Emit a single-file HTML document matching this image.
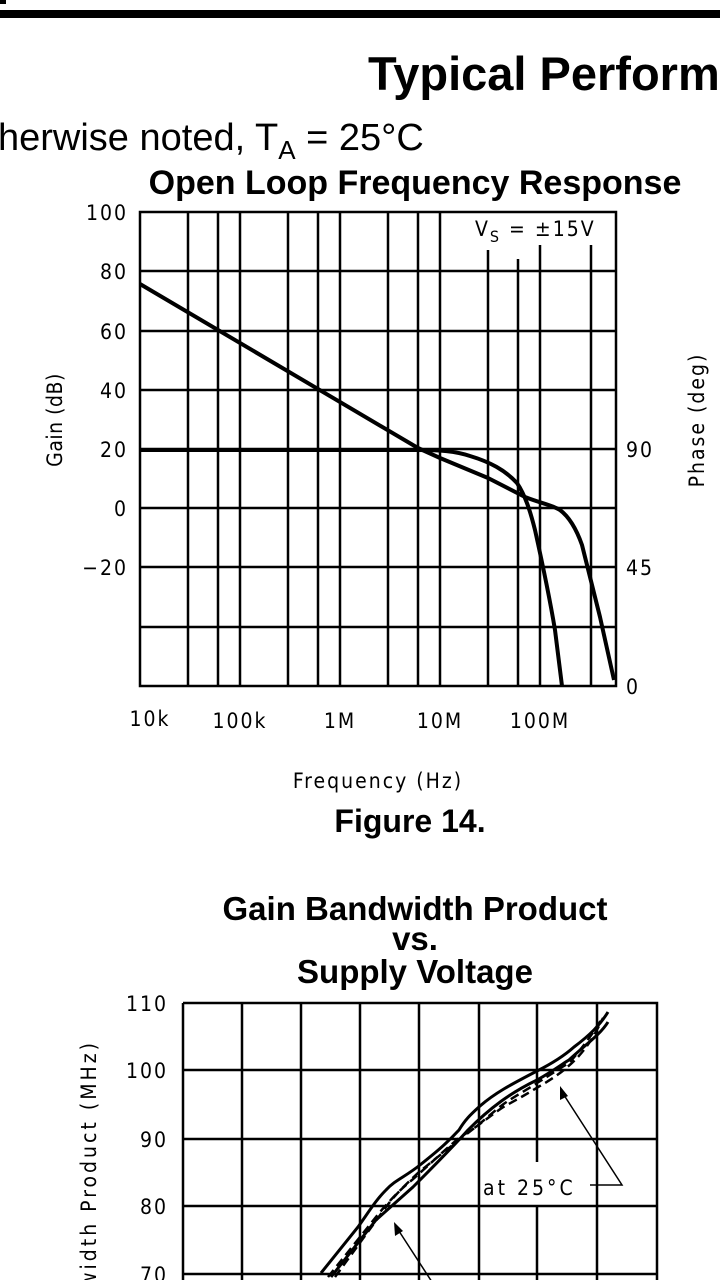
<!DOCTYPE html>
<html><head><meta charset="utf-8"><style>
html,body{margin:0;padding:0;background:#fff;width:720px;height:1280px;overflow:hidden}
svg{display:block}
.m{font-family:"DejaVu Sans Condensed","DejaVu Sans",sans-serif;font-size:21px;fill:#000;letter-spacing:2px}
.b{font-family:"Liberation Sans",sans-serif;font-weight:bold;fill:#000}
</style></head><body>
<svg width="720" height="1280" viewBox="0 0 720 1280" xmlns="http://www.w3.org/2000/svg">
<rect x="0" y="10" width="720" height="8" fill="#000"/>
<rect x="0" y="0" width="6" height="4" fill="#000"/>
<text class="b" x="368" y="90" font-size="47">Typical Perform</text>
<text x="-2" y="150" font-family="Liberation Sans,sans-serif" font-size="38">herwise noted, T<tspan font-size="26" dy="9">A</tspan><tspan dy="-9"> = 25°C</tspan></text>
<text class="b" x="415" y="194" font-size="34" text-anchor="middle">Open Loop Frequency Response</text>

<g stroke="#000" stroke-width="2.5" fill="none">
<rect x="140" y="212" width="476" height="474"/>
<path d="M188 212V686M218 212V686M240 212V686M288 212V686M318 212V686M340 212V686M388 212V686M418 212V686M440 212V686"/>
<path d="M488 250V686M518 259V686M540 245V686M591 245V686"/>
<path d="M140 271H616M140 331H616M140 390H616M140 449H616M140 508H616M140 567H616M140 627H616"/>
</g>
<g stroke="#000" stroke-width="4" fill="none" stroke-linejoin="round">
<path d="M140 284L418 448 L440 458 L488 478 L525 497 C540 503 552 505 560 510 C568 516 576 528 582 545 L600 617 L614 680"/>
<path d="M140 450 L418 450 C440 450 455 451 470 456 C490 462 505 470 517 483 C525 495 530 510 535 530 C545 575 550 600 555 630 L562 686"/>
</g>
<text class="m" x="475" y="236">V<tspan font-size="16" dy="6">S</tspan><tspan dy="-6"> = ±15V</tspan></text>
<g class="m" text-anchor="end">
<text x="128" y="220">100</text><text x="128" y="279">80</text><text x="128" y="339">60</text><text x="128" y="398">40</text><text x="128" y="457">20</text><text x="128" y="516">0</text><text x="128" y="575">−20</text>
</g>
<g class="m"><text x="626" y="457">90</text><text x="626" y="575">45</text><text x="626" y="694">0</text></g>
<g class="m" text-anchor="middle">
<text x="150" y="726">10k</text><text x="240" y="728">100k</text><text x="340" y="728">1M</text><text x="440" y="728">10M</text><text x="540" y="728">100M</text>
<text x="378" y="788">Frequency (Hz)</text>
</g>
<text class="m" transform="translate(62,420) rotate(-90)" text-anchor="middle" style="letter-spacing:0.5px">Gain (dB)</text>
<text class="m" transform="translate(704,420) rotate(-90)" text-anchor="middle">Phase (deg)</text>
<text class="b" x="410" y="832" font-size="32" text-anchor="middle">Figure 14.</text>

<text class="b" x="415" y="920" font-size="33" text-anchor="middle">Gain Bandwidth Product</text>
<text class="b" x="415" y="950" font-size="33" text-anchor="middle">vs.</text>
<text class="b" x="415" y="983" font-size="33" text-anchor="middle">Supply Voltage</text>

<g stroke="#000" stroke-width="2.5" fill="none">
<path d="M183 1003H657V1290M183 1003V1290"/>
<path d="M242 1003V1290M301 1003V1290M360 1003V1290M419 1003V1290M479 1003V1290M537 1003V1162M537 1205V1290M597 1003V1290"/>
<path d="M183 1070H657M183 1139H657M183 1206H657M183 1274H657"/>
</g>
<g stroke="#000" stroke-width="3" fill="none">
<path d="M321 1273 L358 1227 C370 1210 376 1200 386 1190 C395 1180 405 1177 420 1165 C435 1153 445 1145 459 1130 C465 1120 470 1115 480 1106 C495 1093 510 1085 537 1071 C555 1062 565 1055 574 1047 C590 1035 600 1025 608 1012"/>
<path d="M331 1277 L376 1220 L413 1187 C430 1170 450 1150 468 1130 C490 1108 510 1093 537 1080 C555 1070 565 1062 569 1060 C585 1045 600 1035 608 1022"/>
</g>
<g stroke="#000" stroke-width="2.5" fill="none" stroke-dasharray="9,5">
<path d="M335 1277 L386 1207 C395 1195 405 1185 418 1173 C440 1155 455 1143 468 1133 C485 1120 495 1110 505 1103 C520 1093 530 1088 537 1083 C550 1075 560 1068 569 1063 C585 1045 595 1030 601 1020"/>
<path d="M328 1277 L380 1212 C392 1198 402 1188 412 1180 C440 1155 452 1143 462 1136 C480 1125 495 1112 505 1106 C520 1098 530 1092 545 1083 C555 1077 565 1070 575 1060 C590 1045 597 1030 603 1018"/>
</g>
<g stroke="#000" stroke-width="1.5" fill="none">
<path d="M590 1185H622L562 1092"/>
<path d="M432 1282L397 1228"/>
</g>
<path d="M560 1086 L560 1100 L568 1096 Z" fill="#000"/>
<path d="M394 1222 L395 1236 L403 1231 Z" fill="#000"/>
<text class="m" x="483" y="1195" style="letter-spacing:3px">at 25°C</text>
<g class="m" text-anchor="end">
<text x="168" y="1011">110</text><text x="168" y="1078">100</text><text x="168" y="1147">90</text><text x="168" y="1214">80</text><text x="168" y="1282">70</text>
</g>
<text class="m" transform="translate(96,1040) rotate(-90)" text-anchor="end" style="letter-spacing:3px">Gain Bandwidth Product (MHz)</text>
</svg>
</body></html>
